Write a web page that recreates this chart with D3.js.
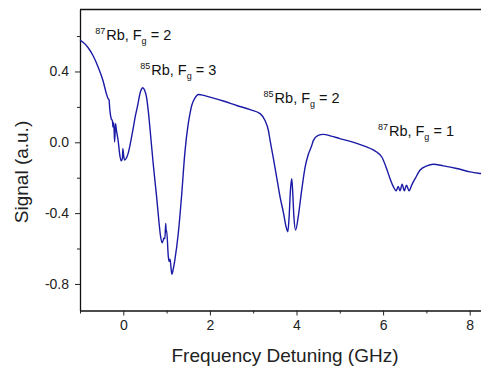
<!DOCTYPE html>
<html>
<head>
<meta charset="utf-8">
<script src="https://cdn.jsdelivr.net/npm/d3@7"></script>
<style>
  body { margin: 0; background: #fff; }
  svg { display: block; font-family: "Liberation Sans", Arial, sans-serif; }
</style>
</head>
<body>
<svg id="chart" width="481" height="367"></svg>
<script>
// frequency detuning (GHz) and signal (a.u.)
const freq = [
  -1.00, -0.93, -0.82, -0.70, -0.58, -0.47, -0.39, -0.35, -0.33, -0.31,
  -0.28, -0.25, -0.24, -0.22, -0.20, -0.18, -0.16, -0.12, -0.08, -0.05,
  -0.02, -0.01, 0.01, 0.03, 0.07, 0.11, 0.16, 0.22, 0.28, 0.34,
  0.38, 0.42, 0.45, 0.49, 0.54, 0.58, 0.62, 0.69, 0.77, 0.82,
  0.86, 0.90, 0.94, 0.96, 0.98, 0.99, 1.00, 1.04, 1.06, 1.08,
  1.12, 1.15, 1.19, 1.27, 1.35, 1.42, 1.50, 1.54, 1.58, 1.66,
  1.73, 1.80, 2.00, 2.31, 2.62, 2.93, 3.16, 3.27, 3.35, 3.39,
  3.46, 3.54, 3.62, 3.70, 3.76, 3.80, 3.83, 3.86, 3.89, 3.91,
  3.94, 3.98, 4.04, 4.12, 4.20, 4.27, 4.35, 4.39, 4.50, 4.62,
  4.80, 5.00, 5.20, 5.39, 5.62, 5.75, 5.85, 5.97, 6.08, 6.16,
  6.24, 6.30, 6.35, 6.39, 6.44, 6.49, 6.54, 6.60, 6.66, 6.74,
  6.85, 7.01, 7.16, 7.39, 7.70, 8.01, 8.24, 8.30
];
const signal = [
  0.575, 0.565, 0.537, 0.490, 0.424, 0.349, 0.274, 0.246, 0.240, 0.180,
  0.134, 0.120, 0.086, 0.110, 0.002, 0.105, 0.070, 0.011, -0.073, -0.105,
  -0.090, -0.036, -0.080, -0.100, -0.090, -0.064, -0.010, 0.068, 0.150, 0.218,
  0.270, 0.300, 0.308, 0.295, 0.250, 0.170, 0.068, -0.120, -0.310, -0.440,
  -0.530, -0.567, -0.540, -0.545, -0.458, -0.505, -0.496, -0.646, -0.674, -0.660,
  -0.745, -0.720, -0.665, -0.514, -0.290, -0.064, 0.105, 0.162, 0.208, 0.252,
  0.270, 0.268, 0.255, 0.233, 0.208, 0.184, 0.162, 0.124, 0.068, 0.011,
  -0.083, -0.195, -0.308, -0.400, -0.477, -0.505, -0.420, -0.270, -0.205, -0.270,
  -0.420, -0.496, -0.420, -0.270, -0.139, -0.070, -0.020, 0.011, 0.039, 0.045,
  0.035, 0.021, 0.008, -0.006, -0.026, -0.040, -0.055, -0.083, -0.148, -0.205,
  -0.252, -0.274, -0.250, -0.274, -0.237, -0.274, -0.242, -0.274, -0.242, -0.205,
  -0.158, -0.133, -0.124, -0.133, -0.148, -0.167, -0.176, -0.178
];

const xMajor = [0, 2, 4, 6, 8];
const xMinor = [-1, 1, 3, 5, 7];
const yMajor = [-0.8, -0.4, 0.0, 0.4];
const yMinor = [-0.6, -0.2, 0.2, 0.6];

// peak labels: isotope, ground level
const labelIso = ["87", "85", "85", "87"];
const labelF = ["2", "3", "2", "1"];
const labelAt = [[-0.65, 0.575], [0.39, 0.38], [3.24, 0.22], [5.88, 0.033]];

const svg = d3.select("#chart");
const padLeft = 80, padTop = 9.5, padBottom = 310.5;

const x = d3.scaleLinear().domain([-1, 8.3]).range([padLeft, padLeft + 9.3 * 43.3]);
const y = d3.scaleLinear().domain([-0.95, 0.75]).range([padBottom, padTop]);

// frame: top line + left + bottom
svg.append("line")
  .attr("x1", padLeft).attr("x2", 481).attr("y1", padTop).attr("y2", padTop)
  .attr("stroke", "#111").attr("stroke-width", 1.3);

const xAxis = svg.append("g")
  .attr("transform", "translate(0," + padBottom + ")")
  .call(d3.axisBottom(x).tickValues(xMajor).tickFormat(d3.format("d"))
    .tickSizeInner(5).tickSizeOuter(0).tickPadding(5));
svg.append("g")
  .attr("transform", "translate(0," + padBottom + ")")
  .call(d3.axisBottom(x).tickValues(xMinor).tickFormat("").tickSizeInner(3).tickSizeOuter(0))
  .select(".domain").remove();

const yAxis = svg.append("g")
  .attr("transform", "translate(" + padLeft + ",0)")
  .call(d3.axisLeft(y).tickValues(yMajor).tickFormat(d3.format(".1f"))
    .tickSizeInner(5).tickSizeOuter(0).tickPadding(6));
svg.append("g")
  .attr("transform", "translate(" + padLeft + ",0)")
  .call(d3.axisLeft(y).tickValues(yMinor).tickFormat("").tickSizeInner(3).tickSizeOuter(0))
  .select(".domain").remove();

svg.selectAll(".domain").attr("stroke", "#111").attr("stroke-width", 1.3);
svg.selectAll(".tick line").attr("stroke", "#222");
svg.selectAll(".tick text").attr("font-size", 14).attr("fill", "#222")
  .attr("font-family", "Liberation Sans, Arial, sans-serif");
yAxis.selectAll(".tick text").text(d => d3.format(".1f")(d).replace("−", "-"));

// trace
const pts = freq.map((f, i) => [f, signal[i]]);
svg.append("path")
  .datum(pts)
  .attr("fill", "none")
  .attr("stroke", "#1a1aa6")
  .attr("stroke-width", 1.4)
  .attr("d", d3.line().x(d => x(d[0])).y(d => y(d[1])).curve(d3.curveMonotoneX));

// labels
labelAt.forEach((p, i) => {
  const t = svg.append("text")
    .attr("x", x(p[0])).attr("y", y(p[1]))
    .attr("font-size", 14.5).attr("fill", "#111");
  t.append("tspan").attr("font-size", 9).attr("dy", -6).text(labelIso[i]);
  t.append("tspan").attr("dy", 6).attr("dx", 1).text("Rb, F");
  t.append("tspan").attr("font-size", 9).attr("dy", 4).text("g");
  t.append("tspan").attr("dy", -4).text(" = " + labelF[i]);
});

// axis titles
svg.append("text")
  .attr("x", 285).attr("y", 362)
  .attr("text-anchor", "middle").attr("font-size", 19).attr("fill", "#222")
  .text("Frequency Detuning (GHz)");
svg.append("text")
  .attr("transform", "translate(28,172) rotate(-90)")
  .attr("text-anchor", "middle").attr("font-size", 19).attr("fill", "#222")
  .text("Signal (a.u.)");
</script>
</body>
</html>
